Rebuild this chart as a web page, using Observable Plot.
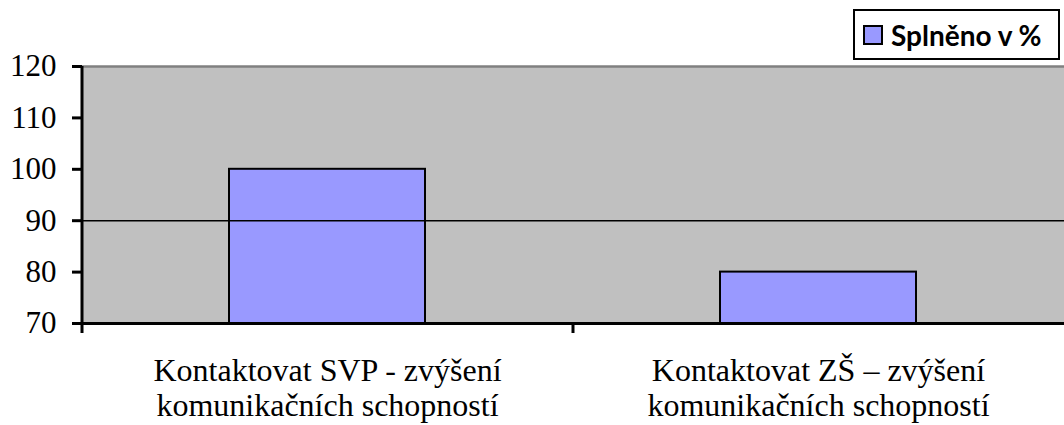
<!DOCTYPE html>
<html>
<head>
<meta charset="utf-8">
<script src="https://cdn.jsdelivr.net/npm/d3@7"></script>
<script src="https://cdn.jsdelivr.net/npm/@observablehq/plot@0.6"></script>
<style>
  html, body { margin: 0; padding: 0; background: #fff; }
  #wrap { position: relative; width: 1064px; height: 425px; overflow: hidden; }
  #legend {
    position: absolute; left: 853px; top: 9px; width: 203px; height: 47px;
    border: 2px solid #000; background: #fff; box-sizing: content-box;
    display: flex; align-items: center; font-family: Lato, "Open Sans", sans-serif;
    font-weight: bold; font-size: 28px; color: #000; white-space: nowrap;
  }
  #legend .sw { width: 16px; height: 16px; background: #9999FF; border: 2px solid #000; margin: 0 8px 0 8px; flex: none; }
</style>
</head>
<body>
<div id="wrap"></div>
<script>
const categories = ["Kontaktovat SVP - zvýšení\nkomunikačních schopností", "Kontaktovat ZŠ – zvýšení\nkomunikačních schopností"];
const values = [100, 80];
const seriesName = "Splněno v %";
const yTicks = [70, 80, 90, 100, 110, 120];
const gridValue = [90];

const data = categories.map((c, i) => ({category: c, value: values[i]}));

const W = 1064, H = 425, mL = 82, mR = 0, mT = 66, mB = 102;
const bw = (W - mL - mR) / categories.length;
const frameH = H - mT - mB;

const chart = Plot.plot({
  width: W, height: H,
  marginLeft: mL, marginRight: mR, marginTop: mT, marginBottom: mB,
  style: {fontFamily: "'Liberation Serif', 'Times New Roman', serif", color: "#000", background: "transparent", overflow: "visible"},
  x: {domain: categories, paddingInner: 0.6, paddingOuter: 0.3, align: 0.5},
  y: {domain: [70, 120]},
  marks: [
    Plot.frame({fill: "#C0C0C0", stroke: null}),
    Plot.ruleY([120], {stroke: "#808080", strokeWidth: 2.5}),
    Plot.barY(data, {x: "category", y1: 70, y2: "value", fill: "#9999FF", stroke: "#000", strokeWidth: 2}),
    Plot.ruleY(gridValue, {stroke: "#000", strokeWidth: 1.5}),
    Plot.ruleY([70], {stroke: "#000", strokeWidth: 3}),
    Plot.ruleX([categories[0]], {x: d => d, dx: -bw / 2, stroke: "#000", strokeWidth: 3, insetBottom: -10}),
    Plot.ruleX([categories[1]], {x: d => d, dx: -bw / 2, stroke: "#000", strokeWidth: 3, insetTop: frameH, insetBottom: -10}),
    Plot.axisY({ticks: yTicks, tickSize: 10, tickPadding: 16, tickFormat: d => String(d), fontSize: 31, stroke: "#000", strokeWidth: 3, label: null}),
    Plot.axisX({tickSize: 0, tickPadding: 33, fontSize: 32, lineHeight: 1.08, label: null})
  ]
});
const wrap = document.getElementById("wrap");
wrap.appendChild(chart);
const lg = document.createElement("div");
lg.id = "legend";
lg.innerHTML = '<div class="sw"></div><span></span>';
lg.querySelector("span").textContent = seriesName;
wrap.appendChild(lg);
</script>
</body>
</html>
